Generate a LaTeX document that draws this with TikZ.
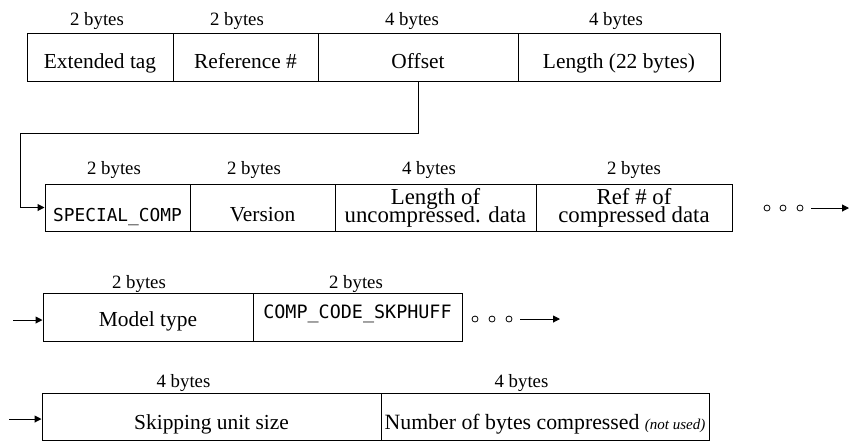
\documentclass[tikz,border=0pt]{standalone}
\usepackage{fontspec}
\setmainfont{Liberation Serif}
\setmonofont{DejaVu Sans Mono}
\usepackage{tikz}
\usetikzlibrary{arrows.meta,positioning}

\begin{document}
\begin{tikzpicture}[
  x=0.5pt, y=-0.5pt,
  field/.style={draw, line width=0.5pt, inner sep=0pt,
                font=\fontsize{10.7}{12}\selectfont},
  rowa/.style={field, text height=17.5pt, text depth=6.5pt},
  rowb/.style={field, text height=18.5pt, text depth=5pt},
  rowbb/.style={field, align=center, minimum height=23.5pt,
                font={\fontsize{11.4}{9}\selectfont\setlength{\lineskiplimit}{-20pt}}},
  rowc/.style={field, text height=16.5pt, text depth=7.5pt},
  rowcc/.style={field, text height=12.5pt, text depth=11.5pt,
                font=\fontsize{9.2}{11}\ttfamily},
  rowd/.style={field, text height=18pt, text depth=5.75pt},
  bytes/.style={anchor=base, inner sep=0pt, font=\fontsize{9.4}{11}\selectfont},
  more/.style={circle, draw, line width=0.4pt, inner sep=0pt, minimum size=3pt},
  arr/.style={-{Triangle[length=3.5pt,width=3.5pt]}, line width=0.5pt}
]
\useasboundingbox (0,0) rectangle (849,441);

% --- tag header ---
\node[rowa, minimum width=73pt]   (ext) at (100,57)   {Extended tag};
\node[rowa, minimum width=72.5pt] (ref) at (245.5,57) {Reference \#};
\node[rowa, minimum width=100pt]  (off) at (418,57)   {Offset};
\node[rowa, minimum width=101pt]  (len) at (619,57)   {Length (22 bytes)};

\node[bytes] (ba1) at (97,25)  {2 bytes};
\node[bytes] (ba2) at (237,25) {2 bytes};
\node[bytes] (ba3) at (412,25) {4 bytes};
\node[bytes] (ba4) at (616,25) {4 bytes};

% --- special element header ---
\node[rowb, minimum width=72.5pt, font=\fontsize{8.9}{11}\ttfamily] (spc) at (117.5,207.5) {SPECIAL\_COMP};
\node[rowb, minimum width=72.5pt] (ver) at (262.5,207.5) {Version};
\node[rowbb, minimum width=100.5pt] (ulen) at (435.5,207.5) {Length of\\uncompressed. data};
\node[rowbb, minimum width=98pt]    (cref) at (634,207.5)  {Ref \# of\\compressed data};

\node[bytes] (bb1) at (114,174.5) {2 bytes};
\node[bytes] (bb2) at (254,174.5) {2 bytes};
\node[bytes] (bb3) at (429,174.5) {4 bytes};
\node[bytes] (bb4) at (634,174.5) {2 bytes};

\node[more] (mb1) at (767,208) {};
\node[more] (mb2) at (783,208) {};
\node[more] (mb3) at (800,208) {};
\coordinate (mbe) at (849,208);
\draw[arr, shorten <=4pt] (mb3.east) -- (mbe);

% offset points to the special element
\draw[arr] (off.south) -- ++(0,52) -| ([xshift=-12pt]spc.west) -- (spc.west);

% --- compression header ---
\node[rowc, minimum width=105pt]    (mtype) at (148,317)   {Model type};
\node[rowcc, minimum width=104.5pt] (code)  at (357.5,317) {COMP\_CODE\_SKPHUFF};

\node[bytes] (bc1) at (139,288) {2 bytes};
\node[bytes] (bc2) at (356,288) {2 bytes};

\node[more] (mc1) at (475,319) {};
\node[more] (mc2) at (492,319) {};
\node[more] (mc3) at (509,319) {};
\coordinate (mce) at (560,319);
\draw[arr, shorten <=4pt] (mc3.east) -- (mce);

\coordinate (inc) at (13,320);
\draw[arr] (inc) -- (inc -| mtype.west);

% --- skipping huffman info ---
\node[rowd, minimum width=169.5pt] (skip) at (211.5,416.75) {Skipping unit size};
\node[rowd, minimum width=164pt, font=\fontsize{10.9}{12}\selectfont] (nbc) at (545,416.75)
  {Number of bytes compressed {\itshape\fontsize{7.5}{9}\selectfont (not used)}};

\node[bytes] (bd1) at (183.5,387) {4 bytes};
\node[bytes] (bd2) at (521.5,387) {4 bytes};

\coordinate (ind) at (9,419);
\draw[arr] (ind) -- (ind -| skip.west);

\end{tikzpicture}
\end{document}
